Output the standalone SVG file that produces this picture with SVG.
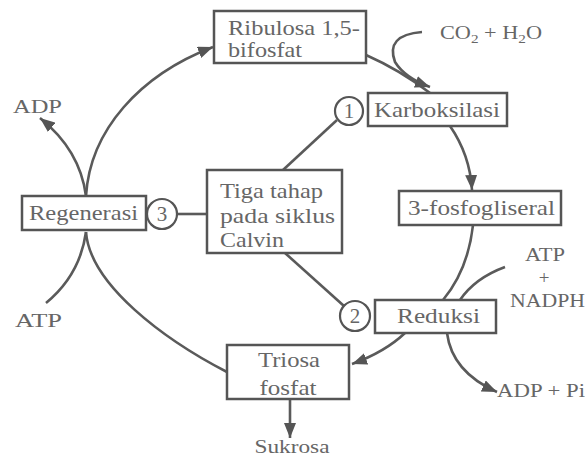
<svg xmlns="http://www.w3.org/2000/svg" width="585" height="457" viewBox="0 0 585 457">
<style>
text{font-family:"Liberation Serif","Times New Roman",serif;fill:#666;font-size:21px}
.sm{font-size:19px}
.box{fill:#fff;stroke:#555;stroke-width:2.5}
.num{fill:#fff;stroke:#555;stroke-width:2.2}
.ln{fill:none;stroke:#5a5a5a;stroke-width:2.6}
.ar{marker-end:url(#ah)}
</style>
<defs>
<marker id="ah" markerUnits="userSpaceOnUse" markerWidth="16" markerHeight="12" refX="15" refY="6" orient="auto">
<path d="M0,0 L15,6 L0,12 z" fill="#555"/>
</marker>
</defs>
<rect width="585" height="457" fill="#fff"/>
<g id="connectors">
<path class="ln ar" d="M86,196 C90,130 140,75 213,47"/>
<path class="ln" d="M366,55 Q400,70 430,93"/>
<path class="ln ar" d="M422,32 Q385,35 395,62 Q405,78 430,87"/>
<path class="ln ar" d="M450,126 Q470,155 472,190"/>
<path class="ln" d="M473,225 Q468,270 443,300"/>
<path class="ln" d="M505,267 Q475,278 460,300"/>
<path class="ln ar" d="M405,333 Q385,352 352,364"/>
<path class="ln ar" d="M447,333 Q452,372 497,392"/>
<path class="ln ar" d="M290,399 L290,438"/>
<path class="ln" d="M227,372 C165,340 90,285 86,232"/>
<path class="ln" d="M86,232 Q80,275 46,303"/>
<path class="ln ar" d="M86,196 Q80,150 40,118"/>
<path class="ln" d="M337,120 L283,170"/>
<path class="ln" d="M285,253 L344,306"/>
<path class="ln" d="M178,214 L207,214"/>
</g>
<g id="ribulosa">
<rect class="box" x="214" y="11" width="152" height="52"/>
<text x="228" y="35" textLength="132" lengthAdjust="spacingAndGlyphs">Ribulosa 1,5-</text>
<text x="228" y="57" textLength="74" lengthAdjust="spacingAndGlyphs">bifosfat</text>
</g>
<g id="co2">
<text class="sm" x="440" y="39" textLength="102" lengthAdjust="spacingAndGlyphs">CO<tspan font-size="13" dy="4">2</tspan><tspan dy="-4"> + H</tspan><tspan font-size="13" dy="4">2</tspan><tspan dy="-4">O</tspan></text>
</g>
<g id="karboksilasi">
<circle class="num" cx="349" cy="111" r="14"/>
<text x="349" y="118" text-anchor="middle" font-size="21">1</text>
<rect class="box" x="368" y="93" width="139" height="33"/>
<text x="374" y="117" textLength="126" lengthAdjust="spacingAndGlyphs">Karboksilasi</text>
</g>
<g id="fosfogliseral">
<rect class="box" x="399" y="191" width="162" height="34"/>
<text x="408" y="215" textLength="147" lengthAdjust="spacingAndGlyphs">3-fosfogliseral</text>
</g>
<g id="atp-nadph">
<text class="sm" x="525" y="261" textLength="40" lengthAdjust="spacingAndGlyphs">ATP</text>
<text class="sm" x="544" y="284" text-anchor="middle">+</text>
<text class="sm" x="510" y="307" textLength="75" lengthAdjust="spacingAndGlyphs">NADPH</text>
</g>
<g id="reduksi">
<circle class="num" cx="355" cy="316" r="15"/>
<text x="355" y="323" text-anchor="middle" font-size="21">2</text>
<rect class="box" x="375" y="300" width="121" height="33"/>
<text x="397" y="323" textLength="83" lengthAdjust="spacingAndGlyphs">Reduksi</text>
</g>
<g id="adp-pi">
<text class="sm" x="497" y="397" textLength="88" lengthAdjust="spacingAndGlyphs">ADP + Pi</text>
</g>
<g id="triosa">
<rect class="box" x="227" y="345" width="122" height="54"/>
<text x="289" y="367" text-anchor="middle" textLength="62" lengthAdjust="spacingAndGlyphs">Triosa</text>
<text x="288" y="395" text-anchor="middle" textLength="57" lengthAdjust="spacingAndGlyphs">fosfat</text>
</g>
<g id="sukrosa">
<text class="sm" x="292" y="453" text-anchor="middle" textLength="75" lengthAdjust="spacingAndGlyphs">Sukrosa</text>
</g>
<g id="tiga">
<rect class="box" x="207" y="170" width="135" height="83"/>
<text x="220" y="198" textLength="103" lengthAdjust="spacingAndGlyphs">Tiga tahap</text>
<text x="220" y="223" textLength="115" lengthAdjust="spacingAndGlyphs">pada siklus</text>
<text x="220" y="247" textLength="64" lengthAdjust="spacingAndGlyphs">Calvin</text>
</g>
<g id="regenerasi">
<rect class="box" x="22" y="196" width="124" height="34"/>
<text x="29" y="220" textLength="109" lengthAdjust="spacingAndGlyphs">Regenerasi</text>
<circle class="num" cx="162" cy="214" r="15"/>
<text x="162" y="221" text-anchor="middle" font-size="21">3</text>
</g>
<g id="adp">
<text class="sm" x="13" y="113" textLength="49" lengthAdjust="spacingAndGlyphs">ADP</text>
</g>
<g id="atp">
<text class="sm" x="15" y="327" textLength="47" lengthAdjust="spacingAndGlyphs">ATP</text>
</g>
</svg>
